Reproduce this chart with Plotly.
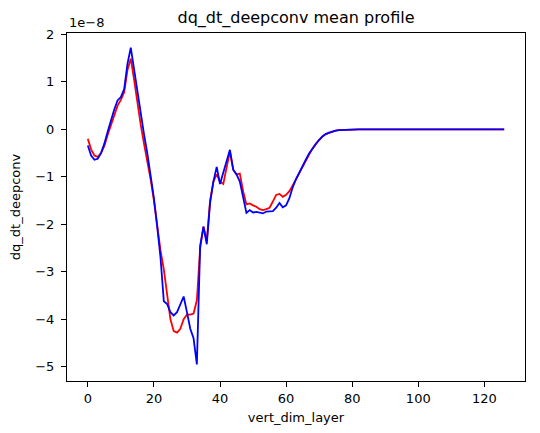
import plotly.graph_objects as go

# values in units of 1e-8
layer = list(range(127))

red_head = [-0.20, -0.42, -0.55, -0.58, -0.50, -0.35, -0.12, 0.10, 0.30, 0.50,
            0.62, 0.78, 1.25, 1.49, 1.05, 0.55, 0.10, -0.30, -0.65, -1.05,
            -1.50, -2.05, -2.55, -2.95, -3.50, -4.00, -4.25, -4.28, -4.20, -4.00,
            -3.90, -3.90, -3.88, -3.60, -2.50, -2.05, -2.35, -1.50, -1.10, -0.95,
            -1.10, -1.15, -0.80, -0.47, -0.85, -0.95, -0.93, -1.30, -1.58, -1.56,
            -1.60, -1.63, -1.68, -1.70, -1.68, -1.65, -1.52, -1.38, -1.36, -1.42,
            -1.38, -1.30, -1.18]

blue_head = [-0.34, -0.55, -0.64, -0.62, -0.50, -0.30, -0.05, 0.20, 0.42, 0.61,
             0.68, 0.85, 1.38, 1.72, 1.25, 0.75, 0.30, -0.10, -0.50, -0.95,
             -1.45, -2.05, -2.70, -3.62, -3.68, -3.85, -3.92, -3.85, -3.70, -3.52,
             -3.85, -4.20, -4.40, -4.95, -2.45, -2.05, -2.42, -1.55, -1.10, -0.79,
             -1.15, -0.90, -0.65, -0.43, -0.85, -0.95, -1.10, -1.40, -1.76, -1.70,
             -1.75, -1.74, -1.76, -1.77, -1.73, -1.72, -1.72, -1.65, -1.55, -1.64,
             -1.60, -1.45, -1.22]

tail = [-1.05, -0.90, -0.76, -0.63, -0.50, -0.40, -0.30, -0.22, -0.15, -0.10,
        -0.07, -0.04, -0.025, -0.015, -0.01, -0.005] + [0.0] * 48

red_vals = red_head + tail
blue_vals = blue_head + tail

y_ticks = [-5, -4, -3, -2, -1, 0, 1, 2]
x_ticks = [0, 20, 40, 60, 80, 100, 120]

scale = 1e-8
fig = go.Figure()
fig.add_trace(go.Scatter(x=layer, y=[v * scale for v in red_vals], mode="lines",
                         line=dict(color="red", width=1.8), showlegend=False))
fig.add_trace(go.Scatter(x=layer, y=[v * scale for v in blue_vals], mode="lines",
                         line=dict(color="blue", width=1.8), showlegend=False))

font = dict(family="DejaVu Sans", size=13, color="#000")
fig.update_layout(
    width=524, height=417,
    margin=dict(l=59, r=7, t=25, b=44),
    paper_bgcolor="white", plot_bgcolor="white",
    font=font,
    title=dict(text="dq_dt_deepconv mean profile", x=0.5, xanchor="center",
               xref="paper", y=1, yref="paper", yanchor="bottom",
               pad=dict(b=10), font=dict(family="DejaVu Sans", size=16, color="#000")),
    xaxis=dict(range=[-6.3, 132.3], tickvals=x_ticks, ticktext=[str(t) for t in x_ticks],
               automargin=False,
               showgrid=False, zeroline=False, showline=True, linecolor="#000",
               linewidth=1, mirror=True, ticks="outside", ticklen=5, tickcolor="#000",
               title=dict(text="vert_dim_layer", standoff=11, font=font)),
    yaxis=dict(range=[-5.3 * scale, 2.03 * scale], tickvals=[t * scale for t in y_ticks],
               ticktext=[str(t).replace("-", "\u2212") for t in y_ticks],
               automargin=False, ticklabelstandoff=4,
               showgrid=False, zeroline=False, showline=True, linecolor="#000",
               linewidth=1, mirror=True, ticks="outside", ticklen=5, tickcolor="#000",
               title=dict(text="dq_dt_deepconv", standoff=15, font=font)),
    annotations=[dict(text="1e\u22128", x=0, y=1, xref="paper", yref="paper",
                      xanchor="left", yanchor="bottom", showarrow=False,
                      yshift=1, font=font)],
)
fig.write_html("out.html")
